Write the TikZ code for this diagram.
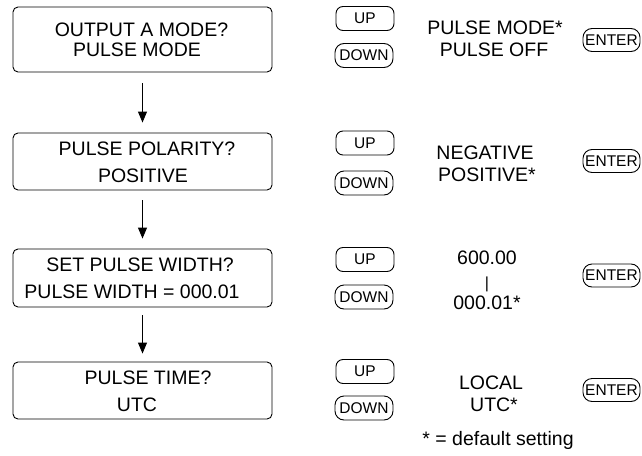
\documentclass[tikz,border=0pt]{standalone}
\usepackage{fontspec}
\setmainfont{Liberation Sans}
\usetikzlibrary{arrows.meta}
\tikzset{
  menubox/.style={draw, line width=0.9pt, rounded corners=5pt, minimum width=259pt, inner sep=0pt},
  txt/.style={anchor=base, inner sep=0pt, font=\fontsize{19.5}{23}\selectfont},
  btn/.style={draw, line width=0.9pt, inner sep=0pt, font=\fontsize{15.5}{18}\selectfont, minimum height=24pt},
  upbtn/.style={btn, minimum width=58pt, rounded corners=7pt},
  downbtn/.style={btn, minimum width=58pt, rounded corners=9pt},
  enterbtn/.style={btn, minimum width=57pt, minimum height=23pt, rounded corners=9pt},
  flow/.style={line width=0.9pt, -{Triangle[length=11pt,width=9pt]}}
}
\begin{document}
\begin{tikzpicture}[x=1pt,y=-1pt]
\useasboundingbox (0,0) rectangle (642,455);
% menu boxes
\node[menubox, minimum height=65pt] (b1) at (142.5,39.5) {};
\node[menubox, minimum height=57pt] (b2) at (142.5,161.5) {};
\node[menubox, minimum height=58pt] (b3) at (142.5,278) {};
\node[menubox, minimum height=57pt] (b4) at (142.5,390.5) {};
% box texts
\node[txt] (t1a) at (141.5,36) {OUTPUT A MODE?};
\node[txt] (t1b) at (137,56) {PULSE MODE};
\node[txt] (t2a) at (147,155.5) {PULSE POLARITY?};
\node[txt] (t2b) at (143,182) {POSITIVE};
\node[txt] (t3a) at (140,271) {SET PULSE WIDTH?};
\node[txt] (t3b) at (132,298) {PULSE WIDTH = 000.01};
\node[txt] (t4a) at (148,384) {PULSE TIME?};
\node[txt] (t4b) at (137,411) {UTC};
% arrows
\draw[flow, shorten <=11pt, shorten >=10pt] (b1) -- (b2);
\draw[flow, shorten <=10pt, shorten >=10pt] (b2) -- (b3);
\draw[flow, shorten <=8pt, shorten >=8pt] (b3) -- (b4);
% buttons
\node[upbtn] (up1) at (365,18.5) {UP};
\node[downbtn] (dn1) at (364,55.5) {DOWN};
\node[enterbtn] (en1) at (611.5,40) {ENTER};
\node[upbtn] (up2) at (365,143) {UP};
\node[downbtn] (dn2) at (364,183) {DOWN};
\node[enterbtn] (en2) at (611.5,161) {ENTER};
\node[upbtn] (up3) at (365,259.5) {UP};
\node[downbtn] (dn3) at (364,297) {DOWN};
\node[enterbtn] (en3) at (611.5,275.5) {ENTER};
\node[upbtn] (up4) at (365,371.5) {UP};
\node[downbtn] (dn4) at (364,408) {DOWN};
\node[enterbtn] (en4) at (611.5,390) {ENTER};
% option texts
\node[txt] (o1a) at (495,34.5) {PULSE MODE*};
\node[txt] (o1b) at (494,56) {PULSE OFF};
\node[txt] (o2a) at (485,159.5) {NEGATIVE};
\node[txt] (o2b) at (487,181) {POSITIVE*};
\node[txt] (o3a) at (487,264) {600.00};
\node[inner sep=0pt, font=\fontsize{16}{18}\selectfont] (o3b) at (487,284) {|};
\node[txt] (o3c) at (487,309) {000.01*};
\node[txt] (o4a) at (491,389) {LOCAL};
\node[txt] (o4b) at (494,411) {UTC*};
\node[txt] (note) at (498,445) {* = default setting};
\end{tikzpicture}
\end{document}
